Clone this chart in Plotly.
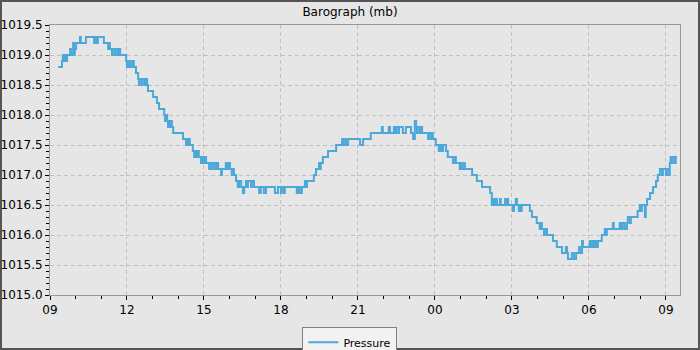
import pandas as pd
import plotly.graph_objects as go

# minutes after 09:00 on the start day, and pressure readings (mb)
minutes = [19, 28, 30, 33, 35, 37, 40, 47, 49, 54, 56, 58, 61, 70, 72, 84, 103, 105, 110, 112,
           126, 136, 138, 140, 145, 147, 152, 154, 159, 161, 164, 178, 180, 182, 185, 187, 189, 194, 196, 201,
           206, 208, 210, 215, 217, 222, 224, 227, 229, 241, 250, 255, 267, 269, 271, 274, 276, 278, 281, 283,
           285, 288, 311, 318, 320, 323, 325, 327, 334, 337, 339, 341, 344, 348, 353, 355, 358, 362, 365, 372,
           374, 379, 381, 386, 390, 393, 400, 402, 411, 414, 418, 421, 425, 428, 430, 435, 439, 442, 447, 451,
           454, 458, 461, 463, 470, 472, 477, 489, 493, 500, 505, 526, 533, 540, 542, 547, 549, 577, 580, 584,
           589, 596, 598, 601, 617, 622, 627, 629, 631, 633, 638, 650, 669, 683, 685, 690, 692, 697, 725, 732,
           750, 776, 778, 792, 795, 804, 806, 809, 814, 816, 825, 832, 844, 849, 853, 856, 858, 860, 865, 867,
           870, 884, 886, 891, 893, 895, 902, 909, 912, 916, 919, 926, 930, 942, 947, 949, 958, 961, 963, 968,
           970, 987, 998, 1010, 1029, 1033, 1036, 1040, 1043, 1045, 1052, 1054, 1064, 1066, 1068, 1071, 1082, 1085, 1089, 1092,
           1096, 1099, 1101, 1103, 1122, 1127, 1138, 1145, 1148, 1150, 1155, 1157, 1162, 1176, 1185, 1197, 1206, 1209, 1211, 1220,
           1225, 1230, 1237, 1239, 1244, 1246, 1262, 1265, 1269, 1272, 1276, 1279, 1281, 1290, 1297, 1300, 1302, 1316, 1318, 1332,
           1335, 1339, 1344, 1349, 1351, 1356, 1358, 1374, 1379, 1381, 1384, 1391, 1393, 1396, 1403, 1410, 1417, 1421, 1426, 1431,
           1433, 1440, 1442, 1447, 1449, 1451, 1454, 1456, 1461, 1463, 1466]

pressure = [1018.8, 1018.9, 1019.0, 1018.9, 1019.0, 1018.9, 1019.0, 1019.1, 1019.0, 1019.2, 1019.0, 1019.1, 1019.2, 1019.3, 1019.2, 1019.3, 1019.2, 1019.3, 1019.2, 1019.3,
            1019.2, 1019.1, 1019.2, 1019.1, 1019.0, 1019.1, 1019.0, 1019.1, 1019.0, 1019.1, 1019.0, 1018.9, 1018.8, 1018.9, 1018.8, 1018.9, 1018.8, 1018.9, 1018.8, 1018.7,
            1018.6, 1018.5, 1018.6, 1018.5, 1018.6, 1018.5, 1018.6, 1018.5, 1018.4, 1018.3, 1018.2, 1018.1, 1018.0, 1017.9, 1018.0, 1017.9, 1017.8, 1017.9, 1017.8, 1017.9,
            1017.8, 1017.7, 1017.6, 1017.5, 1017.6, 1017.5, 1017.6, 1017.5, 1017.4, 1017.3, 1017.4, 1017.3, 1017.4, 1017.3, 1017.2, 1017.3, 1017.2, 1017.3, 1017.2, 1017.1,
            1017.2, 1017.1, 1017.2, 1017.1, 1017.2, 1017.1, 1017.0, 1017.1, 1017.2, 1017.1, 1017.2, 1017.1, 1017.0, 1017.1, 1017.0, 1016.9, 1016.8, 1016.9, 1016.8, 1016.7,
            1016.8, 1016.9, 1016.8, 1016.9, 1016.8, 1016.9, 1016.8, 1016.7, 1016.8, 1016.7, 1016.8, 1016.7, 1016.8, 1016.7, 1016.8, 1016.7, 1016.8, 1016.7, 1016.8, 1016.7,
            1016.8, 1016.9, 1016.8, 1016.9, 1017.0, 1017.1, 1017.1, 1017.2, 1017.1, 1017.2, 1017.3, 1017.4, 1017.5, 1017.6, 1017.5, 1017.6, 1017.5, 1017.6, 1017.5, 1017.6,
            1017.7, 1017.8, 1017.7, 1017.8, 1017.7, 1017.8, 1017.7, 1017.8, 1017.7, 1017.8, 1017.7, 1017.8, 1017.7, 1017.6, 1017.9, 1017.8, 1017.7, 1017.8, 1017.7, 1017.8,
            1017.7, 1017.6, 1017.7, 1017.6, 1017.7, 1017.6, 1017.5, 1017.4, 1017.5, 1017.4, 1017.5, 1017.4, 1017.3, 1017.2, 1017.3, 1017.2, 1017.1, 1017.2, 1017.1, 1017.2,
            1017.1, 1017.0, 1016.9, 1016.8, 1016.7, 1016.5, 1016.6, 1016.5, 1016.6, 1016.5, 1016.6, 1016.5, 1016.6, 1016.5, 1016.6, 1016.5, 1016.4, 1016.5, 1016.6, 1016.5,
            1016.4, 1016.5, 1016.4, 1016.5, 1016.4, 1016.3, 1016.2, 1016.1, 1016.2, 1016.1, 1016.0, 1016.1, 1016.0, 1015.9, 1015.8, 1015.7, 1015.8, 1015.7, 1015.6, 1015.7,
            1015.6, 1015.7, 1015.8, 1015.7, 1015.9, 1015.8, 1015.9, 1015.8, 1015.9, 1015.8, 1015.9, 1015.8, 1015.9, 1016.0, 1016.1, 1016.0, 1016.1, 1016.2, 1016.1, 1016.2,
            1016.1, 1016.2, 1016.1, 1016.2, 1016.3, 1016.2, 1016.3, 1016.4, 1016.5, 1016.4, 1016.5, 1016.3, 1016.5, 1016.6, 1016.7, 1016.8, 1016.9, 1017.0, 1017.1, 1017.0,
            1017.1, 1017.0, 1017.1, 1017.0, 1017.2, 1017.3, 1017.2, 1017.3, 1017.2, 1017.3, 1017.3]

start = pd.Timestamp("2024-01-01 09:00")
times = [start + pd.Timedelta(minutes=m) for m in minutes]

y_ticks = [1015.0, 1015.5, 1016.0, 1016.5, 1017.0, 1017.5, 1018.0, 1018.5, 1019.0, 1019.5]
x_end = start + pd.Timedelta(minutes=1473)

fig = go.Figure()
fig.add_trace(go.Scatter(x=times, y=pressure, mode="lines", name="Pressure",
                         line=dict(color="#4ca8d9", width=2, shape="hv")))

FAM = "DejaVu Sans, sans-serif"
fig.update_layout(
    width=700, height=350,
    margin=dict(l=50, r=20, t=25, b=55, pad=0, autoexpand=False),
    paper_bgcolor="#e6e6e6", plot_bgcolor="#e6e6e6",
    font=dict(family=FAM, size=12, color="#000"),
    title=dict(text="Barograph (mb)", x=0.5, xanchor="center", y=0.966, yanchor="middle",
               font=dict(family=FAM, size=12, color="#000")),
    showlegend=True,
    legend=dict(orientation="h", x=0.476, xanchor="center", y=-0.118, yanchor="top",
                bgcolor="#f2f2f2", bordercolor="#808080", borderwidth=1,
                font=dict(family=FAM, size=11, color="#000")),
    xaxis=dict(range=[start, x_end], tickformat="%H", dtick=3 * 3600000, tick0=start,
               automargin=False,
               showline=True, linecolor="#999", linewidth=1, mirror=True,
               ticks="outside", ticklen=4, tickcolor="#000",
               showgrid=True, gridcolor="#c0c0c0", griddash="4px,3px", gridwidth=1,
               zeroline=False, tickfont=dict(family=FAM, size=12),
               minor=dict(dtick=3600000, ticks="outside", ticklen=3, tickcolor="#000", showgrid=False)),
    yaxis=dict(range=[1015.0, 1019.5], tickvals=y_ticks, ticktext=[f"{v:.1f}" for v in y_ticks],
               automargin=False,
               showline=True, linecolor="#999", linewidth=1, mirror=True,
               ticks="outside", ticklen=4, tickcolor="#000",
               showgrid=True, gridcolor="#c0c0c0", griddash="4px,3px", gridwidth=1,
               zeroline=False, tickfont=dict(family=FAM, size=12),
               minor=dict(dtick=0.1, tick0=1015.0, ticks="outside", ticklen=3, tickcolor="#000", showgrid=False)),
)

# outer dark frame around the whole picture
fig.add_shape(type="rect", xref="paper", yref="paper",
              x0=(1 - 50) / 630, x1=(699 - 50) / 630,
              y0=-(349 - 295) / 270, y1=1 + (25 - 1) / 270,
              line=dict(color="#555", width=2), fillcolor="rgba(0,0,0,0)", layer="above")

fig.write_html("out.html", config={"displayModeBar": False},
               post_script="document.body.style.margin='0';document.body.style.padding='0';")
